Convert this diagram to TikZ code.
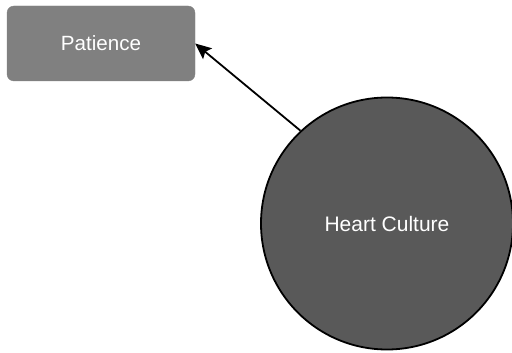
\documentclass[tikz,border=0pt]{standalone}
\usepackage{fontspec}
\setmainfont{Liberation Sans}
\usetikzlibrary{arrows.meta}
\definecolor{boxgray}{HTML}{808080}
\definecolor{circgray}{HTML}{595959}
\tikzset{
  boxnode/.style={fill=boxgray, draw=boxgray, rounded corners=7pt, minimum width=188pt, minimum height=75pt, text=white, font=\fontsize{20.6}{24}\selectfont, inner sep=0pt},
  circnode/.style={circle, fill=circgray, draw=black, line width=1.8pt, minimum size=252pt, text=white, font=\fontsize{21}{24}\selectfont, inner sep=0pt},
  conn/.style={line width=1.8pt, -{Stealth[length=16pt,width=14pt,inset=3pt]}}
}
\begin{document}
\begin{tikzpicture}[x=1pt,y=-1pt]
\useasboundingbox (0,0) rectangle (512,353);
\node[boxnode] (pat) at (101,43.5) {Patience};
\node[circnode] (hc) at (387,223.5) {Heart Culture};
\draw[conn] (hc.133) -- (pat.east);
\end{tikzpicture}
\end{document}
